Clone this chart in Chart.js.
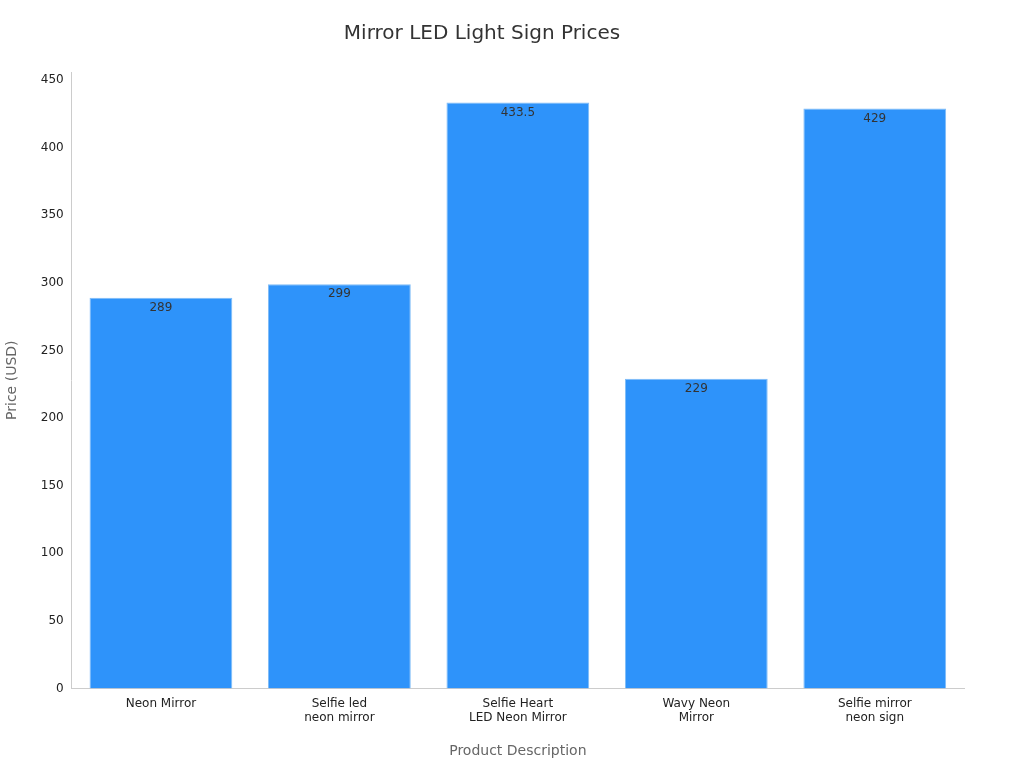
<!DOCTYPE html>
<html><head><meta charset="utf-8">
<script src="https://cdn.jsdelivr.net/npm/chart.js@4"></script>
<style>html,body{margin:0;padding:0;background:#fff}#w{width:1024px;height:768px}</style>
</head><body><div id="w"><canvas id="c"></canvas></div>
<script>
const categories = [["Neon Mirror"], ["Selfie led","neon mirror"], ["Selfie Heart","LED Neon Mirror"], ["Wavy Neon","Mirror"], ["Selfie mirror","neon sign"]];
const prices = [289, 299, 433.5, 229, 429];
const yTicks = [0, 50, 100, 150, 200, 250, 300, 350, 400, 450];

const labelPlugin = {
  id: 'vals',
  afterDatasetsDraw(chart) {
    const ctx = chart.ctx;
    const meta = chart.getDatasetMeta(0);
    ctx.save();
    ctx.font = '12px "DejaVu Sans"';
    ctx.fillStyle = '#333';
    ctx.textAlign = 'center';
    ctx.textBaseline = 'top';
    meta.data.forEach((bar, i) => {
      ctx.fillText(String(prices[i]), bar.x, bar.y + 4);
    });
    ctx.restore();
  }
};

new Chart(document.getElementById('c'), {
  type: 'bar',
  data: { labels: categories, datasets: [{
    data: prices, backgroundColor: '#2E93FA', borderColor: '#7fbcf7', borderWidth: 1,
    categoryPercentage: 0.8, barPercentage: 1
  }]},
  options: {
    responsive: true, maintainAspectRatio: false, animation: false,
    devicePixelRatio: 1,
    layout: { padding: { left: 0, right: 60, top: 10, bottom: 4 } },
    plugins: {
      legend: { display: false }, tooltip: { enabled: false },
      title: { display: true, text: 'Mirror LED Light Sign Prices', color: '#333',
        font: { family: 'DejaVu Sans', size: 20, weight: 'normal' }, padding: { top: 12, bottom: 26 } }
    },
    scales: {
      x: {
        grid: { display: false, drawTicks: false },
        border: { color: '#ccc' },
        ticks: { color: '#222', font: { family: 'DejaVu Sans', size: 12 }, padding: 8, maxRotation: 0 },
        title: { display: true, text: 'Product Description', color: '#666',
          font: { family: 'DejaVu Sans', size: 14 }, padding: { top: 10 } }
      },
      y: {
        min: 0, max: 456,
        afterBuildTicks(s) { s.ticks = yTicks.map(v => ({ value: v })); },
        grid: { display: false, drawOnChartArea: false, drawTicks: true, tickLength: 6, tickColor: '#666' },
        border: { color: '#ccc' },
        ticks: { color: '#222', font: { family: 'DejaVu Sans', size: 12 }, padding: 2 },
        title: { display: true, text: 'Price (USD)', color: '#666',
          font: { family: 'DejaVu Sans', size: 14 }, padding: { bottom: 18 } }
      }
    }
  },
  plugins: [labelPlugin]
});
</script></body></html>
